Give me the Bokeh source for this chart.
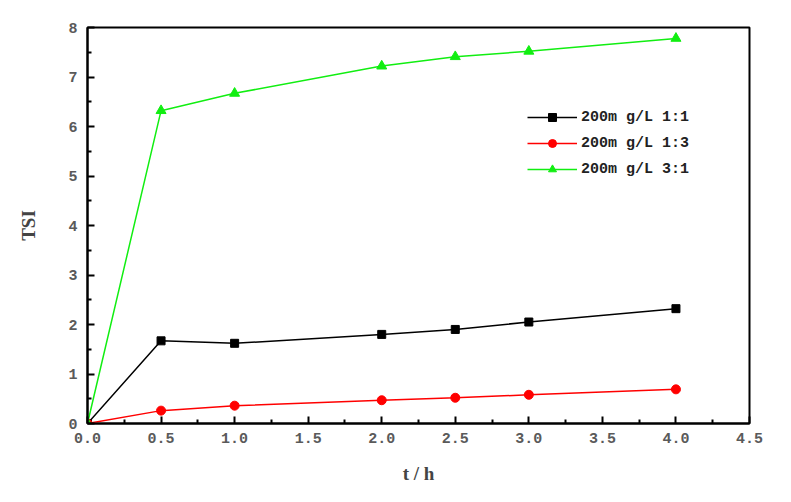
from bokeh.plotting import figure
from bokeh.models import FixedTicker, Range1d, Legend, LegendItem
from bokeh.embed import file_html
from bokeh.resources import INLINE

# data
t = [0.0, 0.5, 1.0, 2.0, 2.5, 3.0, 4.0]
tsi_11 = [0.0, 1.67, 1.62, 1.80, 1.90, 2.05, 2.32]
tsi_13 = [0.0, 0.26, 0.36, 0.47, 0.52, 0.58, 0.69]
tsi_31 = [0.0, 6.32, 6.67, 7.22, 7.41, 7.52, 7.78]
labels = ["200m g/L 1:1", "200m g/L 1:3", "200m g/L 3:1"]

x_ticks = [0.0, 0.5, 1.0, 1.5, 2.0, 2.5, 3.0, 3.5, 4.0, 4.5]
x_minor = [0.25, 0.75, 1.25, 1.75, 2.25, 2.75, 3.25, 3.75, 4.25]
y_ticks = [0, 1, 2, 3, 4, 5, 6, 7, 8]
y_minor = [0.5, 1.5, 2.5, 3.5, 4.5, 5.5, 6.5, 7.5]

p = figure(width=775, height=486, output_backend="svg", toolbar_location=None,
           x_range=Range1d(0, 4.5), y_range=Range1d(0, 8),
           min_border_left=87, min_border_right=26, min_border_top=27, min_border_bottom=58)
p.grid.visible = False
p.outline_line_color = "black"
p.outline_line_width = 2

p.xaxis.ticker = FixedTicker(ticks=x_ticks, minor_ticks=x_minor)
p.yaxis.ticker = FixedTicker(ticks=y_ticks, minor_ticks=y_minor)
p.xaxis.major_label_overrides = {v: f"{v:.1f}" for v in x_ticks}
p.yaxis.major_label_overrides = {v: str(v) for v in y_ticks}

for ax in (p.xaxis, p.yaxis):
    ax.axis_line_width = 2
    ax.major_tick_in = 7
    ax.major_tick_out = 0
    ax.minor_tick_in = 4
    ax.minor_tick_out = 0
    ax.major_tick_line_width = 2
    ax.minor_tick_line_width = 2
    ax.major_label_text_font = "Liberation Mono"
    ax.major_label_text_font_size = "15px"
    ax.major_label_text_font_style = "bold"
    ax.major_label_text_color = "#5a5a5a"
    ax.axis_label_text_font = "Liberation Serif"
    ax.axis_label_text_font_style = "bold"
    ax.axis_label_text_font_size = "19px"

p.xaxis.axis_label = "t / h"
p.yaxis.axis_label = "TSI"
p.xaxis.major_label_standoff = 9
p.yaxis.major_label_standoff = 10
p.xaxis.axis_label_standoff = 17
p.yaxis.axis_label_standoff = 26

l1 = p.line(t, tsi_11, line_color="black", line_width=1.5)
m1 = p.scatter(t, tsi_11, marker="square", size=8, color="black")
l2 = p.line(t, tsi_13, line_color="#ff0000", line_width=1.5)
m2 = p.scatter(t, tsi_13, marker="circle", size=9, color="#ff0000")
l3 = p.line(t, tsi_31, line_color="#11ee11", line_width=1.5)
m3 = p.scatter(t, tsi_31, marker="triangle", size=10, color="#11ee11")

legend = Legend(items=[LegendItem(label=labels[0], renderers=[l1, m1]),
                       LegendItem(label=labels[1], renderers=[l2, m2]),
                       LegendItem(label=labels[2], renderers=[l3, m3])],
                location=(440, 244), padding=0, margin=0, spacing=6,
                glyph_width=50, glyph_height=20, label_height=20, label_standoff=4,
                border_line_alpha=0, background_fill_alpha=0,
                label_text_font="Liberation Mono", label_text_font_style="bold",
                label_text_font_size="15px", label_text_color="#222222")
p.add_layout(legend, "center")

open("out.html", "w").write(file_html(p, INLINE))
